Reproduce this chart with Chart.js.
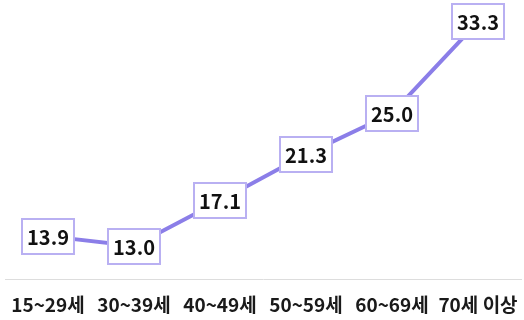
<!DOCTYPE html>
<html><head><meta charset="utf-8">
<script src="https://cdn.jsdelivr.net/npm/chart.js@4/dist/chart.umd.min.js"></script>
<style>html,body{margin:0;padding:0;background:#fff}#w{width:524px;height:320px}</style>
</head><body><div id="w"><canvas id="c"></canvas></div>
<script>
const categories = ['15~29세','30~39세','40~49세','50~59세','60~69세','70세 이상'];
const values = [13.9, 13.0, 17.1, 21.3, 25.0, 33.3];

const FONT = "'Noto Sans CJK KR', 'Noto Sans', sans-serif";

const boxLabels = {
  id: 'boxLabels',
  afterDatasetsDraw(chart) {
    const ctx = chart.ctx;
    const meta = chart.getDatasetMeta(0);
    ctx.save();
    ctx.font = 'bold 20px ' + FONT;
    ctx.textAlign = 'center';
    ctx.textBaseline = 'middle';
    meta.data.forEach((pt, i) => {
      const txt = values[i].toFixed(1);
      const w = Math.round(ctx.measureText(txt).width + 10);
      const h = 35;
      const x = Math.round(pt.x - w / 2), y = Math.round(pt.y - h / 2);
      ctx.fillStyle = '#ffffff';
      ctx.fillRect(x, y, w, h);
      ctx.strokeStyle = '#b9b0f2';
      ctx.lineWidth = 2;
      ctx.strokeRect(x, y, w, h);
      ctx.fillStyle = '#111111';
      ctx.fillText(txt, pt.x, pt.y + 1);
    });
    ctx.restore();
  }
};

new Chart(document.getElementById('c'), {
  type: 'line',
  data: {
    labels: categories,
    datasets: [{
      data: values,
      borderColor: '#8b7ee8',
      borderWidth: 4,
      pointRadius: 0,
      tension: 0,
      fill: false
    }]
  },
  options: {
    responsive: true,
    maintainAspectRatio: false,
    animation: false,
    devicePixelRatio: 1,
    layout: { padding: { left: 5, right: 3, top: 3, bottom: -10 } },
    plugins: { legend: { display: false }, tooltip: { enabled: false } },
    scales: {
      x: {
        offset: true,
        afterFit(scale) { scale.paddingLeft = 0; scale.paddingRight = 0; },
        grid: { display: false, drawTicks: false },
        border: { display: true, color: '#dddddd', width: 1 },
        ticks: { color: '#1a1a1a', padding: 14, font: { family: FONT, size: 19, weight: 'bold' }, maxRotation: 0, autoSkip: false }
      },
      y: {
        display: false,
        min: 10,
        max: 35
      }
    }
  },
  plugins: [boxLabels]
});
</script>
</body></html>
